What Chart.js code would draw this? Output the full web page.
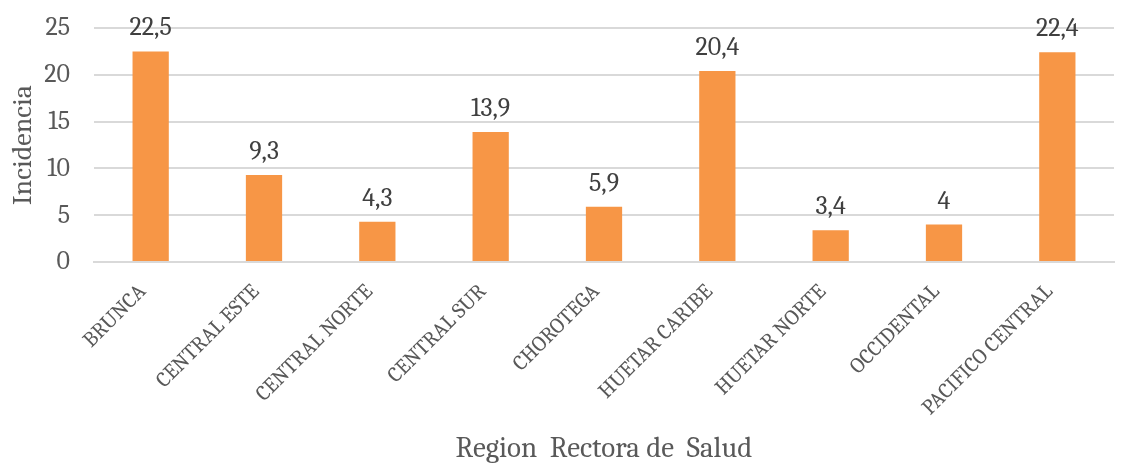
<!DOCTYPE html>
<html>
<head>
<meta charset="utf-8">
<script src="https://cdn.jsdelivr.net/npm/chart.js@4.4.1/dist/chart.umd.min.js"></script>
<style>
  html, body { margin: 0; padding: 0; background: #fff; }
  #wrap { width: 1131px; height: 464px; }
</style>
</head>
<body>
<div id="wrap"><canvas id="chart" width="1131" height="464"></canvas></div>
<script>
// datos del gráfico
const regiones = ['BRUNCA', 'CENTRAL ESTE', 'CENTRAL NORTE', 'CENTRAL SUR', 'CHOROTEGA',
                  'HUETAR CARIBE', 'HUETAR NORTE', 'OCCIDENTAL', 'PACIFICO CENTRAL'];
const incidencia = [22.5, 9.3, 4.3, 13.9, 5.9, 20.4, 3.4, 4, 22.4];
const yTicks = [0, 5, 10, 15, 20, 25];

const serif = "Cambria, Caladea, 'Liberation Serif', 'DejaVu Serif', serif";

// etiquetas de valor encima de cada barra, con coma decimal
const valueLabels = {
    id: 'valueLabels',
    afterDatasetsDraw(chart) {
        const ctx = chart.ctx;
        const meta = chart.getDatasetMeta(0);
        ctx.save();
        ctx.font = '26px ' + serif;
        ctx.fillStyle = '#404040';
        ctx.textAlign = 'center';
        ctx.textBaseline = 'alphabetic';
        meta.data.forEach((bar, i) => {
            const txt = String(incidencia[i]).replace('.', ',');
            ctx.fillText(txt, bar.x, bar.y - 16);
        });
        ctx.restore();
    }
};

new Chart(document.getElementById('chart').getContext('2d'), {
    type: 'bar',
    data: {
        labels: regiones,
        datasets: [{
            data: incidencia,
            backgroundColor: '#F79646',
            borderWidth: 0,
            categoryPercentage: 1,
            barPercentage: 0.32
        }]
    },
    options: {
        responsive: false,
        animation: false,
        layout: { padding: { left: 6, right: 17, top: 28, bottom: 0 } },
        plugins: {
            legend: { display: false },
            tooltip: { enabled: false }
        },
        scales: {
            x: {
                grid: { display: false },
                border: { color: '#d9d9d9', width: 2 },
                ticks: {
                    color: '#595959',
                    font: { family: serif, size: 21.5 },
                    minRotation: 45,
                    maxRotation: 45,
                    padding: 9,
                    labelOffset: -8
                },
                title: {
                    display: true,
                    text: 'Region  Rectora de  Salud',
                    color: '#595959',
                    font: { family: serif, size: 29 },
                    padding: { top: 4, bottom: -2 }
                },
                afterFit(scale) { scale.height = 202; }
            },
            y: {
                min: 0,
                max: 25,
                afterBuildTicks(scale) {
                    scale.ticks = yTicks.map(v => ({ value: v }));
                },
                grid: { color: '#d9d9d9', lineWidth: 2, drawTicks: false },
                border: { display: false },
                ticks: {
                    color: '#595959',
                    font: { family: serif, size: 26 },
                    padding: 24
                },
                title: {
                    display: true,
                    text: 'Incidencia',
                    color: '#595959',
                    font: { family: serif, size: 28 },
                    padding: { top: 0, bottom: 0 }
                },
                afterFit(scale) {
                    scale.width = 88;
                    scale.paddingTop = 0;
                    scale.paddingBottom = 0;
                }
            }
        }
    },
    plugins: [valueLabels]
});
</script>
</body>
</html>
